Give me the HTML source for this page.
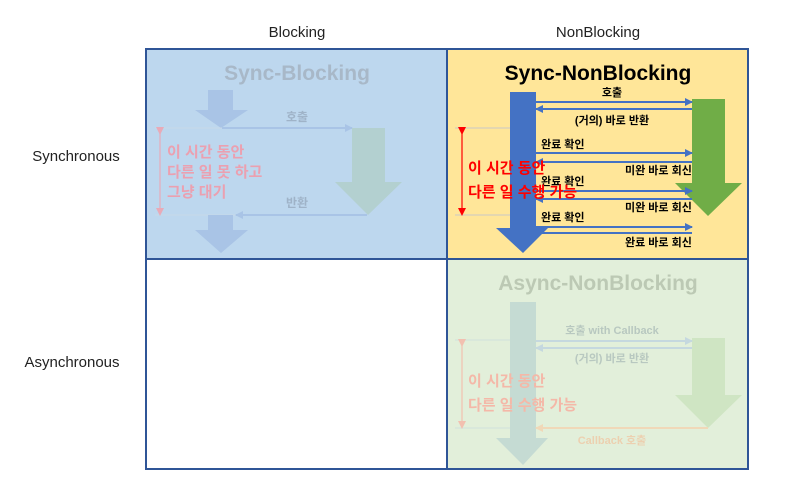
<!DOCTYPE html>
<html><head><meta charset="utf-8"><style>
html,body{margin:0;padding:0;background:#fff;}
svg{display:block;font-family:"Liberation Sans","Noto Sans CJK KR",sans-serif;}
</style></head><body>
<svg width="786" height="489" viewBox="0 0 786 489" xmlns="http://www.w3.org/2000/svg">
<defs>
<marker id="ab" markerWidth="8" markerHeight="8" refX="7" refY="4" orient="auto" markerUnits="userSpaceOnUse"><path d="M0,0 L8,4 L0,8z" fill="#4472c4"/></marker>
<marker id="af" markerWidth="8" markerHeight="8" refX="7" refY="4" orient="auto" markerUnits="userSpaceOnUse"><path d="M0,0 L8,4 L0,8z" fill="#a9c4e6"/></marker>
<marker id="ag" markerWidth="8" markerHeight="8" refX="7" refY="4" orient="auto" markerUnits="userSpaceOnUse"><path d="M0,0 L8,4 L0,8z" fill="#c5d8df"/></marker>
<marker id="ao" markerWidth="8" markerHeight="8" refX="7" refY="4" orient="auto" markerUnits="userSpaceOnUse"><path d="M0,0 L8,4 L0,8z" fill="#f0d8b8"/></marker>
<marker id="rr" markerWidth="8" markerHeight="8" refX="4" refY="4" orient="auto" markerUnits="userSpaceOnUse"><path d="M0,0 L8,4 L0,8z" fill="#ff0000"/></marker>
<marker id="rf" markerWidth="8" markerHeight="8" refX="4" refY="4" orient="auto" markerUnits="userSpaceOnUse"><path d="M0,0 L8,4 L0,8z" fill="#e8aab8"/></marker>
<marker id="ro" markerWidth="8" markerHeight="8" refX="4" refY="4" orient="auto" markerUnits="userSpaceOnUse"><path d="M0,0 L8,4 L0,8z" fill="#f2c0b0"/></marker>
</defs>
<!-- headers -->
<g font-size="15" fill="#222" text-anchor="middle">
<text x="297" y="37">Blocking</text>
<text x="598" y="37">NonBlocking</text>
<text x="76" y="161">Synchronous</text>
<text x="72" y="367">Asynchronous</text>
</g>
<!-- cells -->
<rect x="146" y="49" width="301" height="210" fill="#bdd7ee"/>
<rect x="447" y="49" width="301" height="210" fill="#ffe699"/>
<rect x="447" y="259" width="301" height="210" fill="#e2efda"/>

<!-- Sync-Blocking faded -->
<text x="297" y="80" text-anchor="middle" font-size="21" font-weight="bold" fill="#a8b8c8">Sync-Blocking</text>
<path d="M208,90 H233 V110 H248 L221,128 L195,110 H208Z" fill="#a9c4e6"/>
<line x1="155" y1="128" x2="222" y2="128" stroke="#c8d8e8" stroke-width="1"/>
<line x1="155" y1="215" x2="236" y2="215" stroke="#c8d8e8" stroke-width="1"/>
<line x1="222" y1="128" x2="352" y2="128" stroke="#a9c4e6" stroke-width="2" marker-end="url(#af)"/>
<text x="297" y="121" text-anchor="middle" font-size="12" font-weight="bold" fill="#9fb3c8">호출</text>
<path d="M352,128 H385 V182 H402 L368,215 L335,182 H352Z" fill="#b3d0d0"/>
<line x1="367" y1="215" x2="236" y2="215" stroke="#a9c4e6" stroke-width="2" marker-end="url(#af)"/>
<text x="297" y="207" text-anchor="middle" font-size="12" font-weight="bold" fill="#9fb3c8">반환</text>
<path d="M208,215 H233 V230 H248 L221,253 L195,230 H208Z" fill="#a9c4e6"/>
<line x1="160" y1="131" x2="160" y2="212" stroke="#e8aab8" stroke-width="1.2" marker-start="url(#rf)" marker-end="url(#rf)"/>
<g font-size="15" font-weight="bold" fill="#eba0b0">
<text x="167" y="157">이 시간 동안</text>
<text x="167" y="177">다른 일 못 하고</text>
<text x="167" y="197">그냥 대기</text>
</g>

<!-- Sync-NonBlocking -->
<text x="598" y="80" text-anchor="middle" font-size="21" font-weight="bold" fill="#000">Sync-NonBlocking</text>
<line x1="455" y1="128" x2="510" y2="128" stroke="#c8c8c8" stroke-width="1"/>
<line x1="455" y1="215" x2="510" y2="215" stroke="#c8c8c8" stroke-width="1"/>
<path d="M510,92 H536 V228 H548 L523,253 L496,228 H510Z" fill="#4472c4"/>
<path d="M692,99 H725 V183 H742 L708,216 L675,183 H692Z" fill="#70ad47"/>
<g stroke="#4472c4" stroke-width="2" fill="none">
<line x1="536" y1="102" x2="692" y2="102" marker-end="url(#ab)"/>
<line x1="692" y1="109" x2="536" y2="109" marker-end="url(#ab)"/>
<line x1="536" y1="153" x2="692" y2="153" marker-end="url(#ab)"/>
<line x1="692" y1="162" x2="536" y2="162" marker-end="url(#ab)"/>
<line x1="536" y1="191" x2="692" y2="191" marker-end="url(#ab)"/>
<line x1="692" y1="199" x2="536" y2="199" marker-end="url(#ab)"/>
<line x1="536" y1="227" x2="692" y2="227" marker-end="url(#ab)"/>
<line x1="692" y1="233" x2="536" y2="233"/>
</g>
<g font-size="11" font-weight="bold" fill="#000">
<text x="612" y="96" text-anchor="middle">호출</text>
<text x="612" y="124" text-anchor="middle">(거의) 바로 반환</text>
<text x="541" y="148">완료 확인</text>
<text x="625" y="174">미완 바로 회신</text>
<text x="541" y="185">완료 확인</text>
<text x="625" y="211">미완 바로 회신</text>
<text x="541" y="221">완료 확인</text>
<text x="625" y="246">완료 바로 회신</text>
</g>
<line x1="462" y1="131" x2="462" y2="212" stroke="#ff0000" stroke-width="1.2" marker-start="url(#rr)" marker-end="url(#rr)"/>
<g font-size="15" font-weight="bold" fill="#ff0000">
<text x="468" y="173">이 시간 동안</text>
<text x="468" y="197">다른 일 수행 가능</text>
</g>

<!-- Async-NonBlocking faded -->
<text x="598" y="290" text-anchor="middle" font-size="21" font-weight="bold" fill="#bcc9b4">Async-NonBlocking</text>
<line x1="455" y1="340" x2="510" y2="340" stroke="#d0e0dc" stroke-width="1"/>
<line x1="455" y1="428" x2="510" y2="428" stroke="#d0e0dc" stroke-width="1"/>
<path d="M510,302 H536 V438 H548 L523,465 L496,438 H510Z" fill="#c5dbd3"/>
<path d="M692,338 H725 V395 H742 L708,428 L675,395 H692Z" fill="#cfe5c3"/>
<line x1="536" y1="341" x2="692" y2="341" stroke="#c5d8df" stroke-width="2" marker-end="url(#ag)"/>
<line x1="692" y1="348" x2="536" y2="348" stroke="#c5d8df" stroke-width="2" marker-end="url(#ag)"/>
<line x1="708" y1="428" x2="536" y2="428" stroke="#f0d8b8" stroke-width="2" marker-end="url(#ao)"/>
<g font-size="11" font-weight="bold" text-anchor="middle">
<text x="612" y="334" fill="#b8c8c0">호출 with Callback</text>
<text x="612" y="362" fill="#b8c8c0">(거의) 바로 반환</text>
<text x="612" y="444" fill="#ecd0b0">Callback 호출</text>
</g>
<line x1="462" y1="343" x2="462" y2="425" stroke="#f2c0b0" stroke-width="1.2" marker-start="url(#ro)" marker-end="url(#ro)"/>
<g font-size="15" font-weight="bold" fill="#f4b8a8">
<text x="468" y="386">이 시간 동안</text>
<text x="468" y="410">다른 일 수행 가능</text>
</g>

<!-- grid lines -->
<g stroke="#2f5597" stroke-width="2" fill="none">
<rect x="146" y="49" width="602" height="420"/>
<line x1="447" y1="49" x2="447" y2="469"/>
<line x1="146" y1="259" x2="748" y2="259"/>
</g>
</svg>
</body></html>
